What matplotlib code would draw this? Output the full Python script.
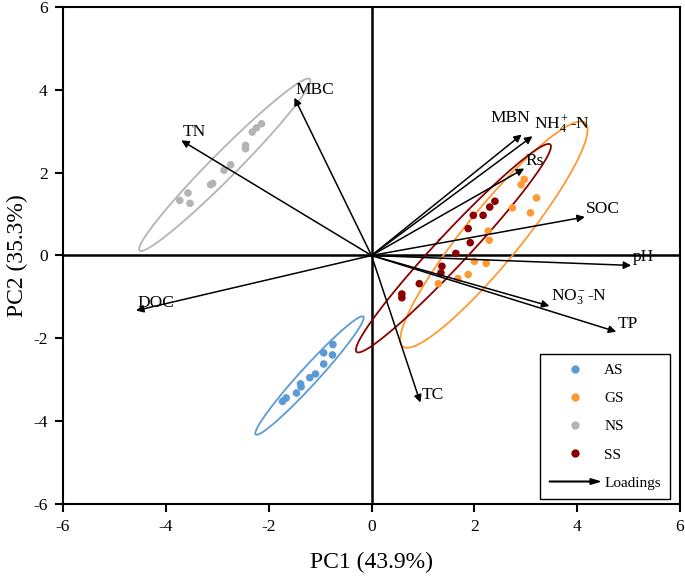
import numpy as np
import matplotlib
matplotlib.use('Agg')
import matplotlib.pyplot as plt
import matplotlib.patches as mpatches
from matplotlib.lines import Line2D
from matplotlib.legend_handler import HandlerPatch

plt.rcParams['font.family'] = ['Liberation Serif', 'DejaVu Serif']
plt.rcParams['mathtext.fontset'] = 'custom'
plt.rcParams['mathtext.rm'] = 'Liberation Serif'
plt.rcParams['mathtext.it'] = 'Liberation Serif:italic'
plt.rcParams['axes.unicode_minus'] = False

# sample scores (PC1, PC2) per group
as_pc1 = [-0.75, -0.93, -0.76, -0.93, -1.09, -1.20, -1.38, -1.37, -1.46, -1.66, -1.73]
as_pc2 = [-2.15, -2.35, -2.40, -2.62, -2.86, -2.95, -3.10, -3.17, -3.32, -3.44, -3.52]
gs_pc1 = [2.97, 2.91, 3.21, 2.74, 3.09, 2.27, 2.29, 2.00, 2.23, 1.88, 1.68, 1.30]
gs_pc2 = [1.84, 1.71, 1.39, 1.15, 1.03, 0.59, 0.37, -0.14, -0.19, -0.46, -0.56, -0.68]
ns_pc1 = [-2.14, -2.24, -2.32, -2.45, -2.45, -2.74, -2.87, -3.09, -3.13, -3.57, -3.73, -3.53]
ns_pc2 = [3.18, 3.08, 2.98, 2.66, 2.58, 2.19, 2.06, 1.74, 1.71, 1.51, 1.33, 1.26]
ss_pc1 = [2.40, 2.30, 1.98, 2.17, 1.88, 1.92, 1.64, 1.37, 1.35, 0.93, 0.59, 0.59]
ss_pc2 = [1.31, 1.17, 0.97, 0.97, 0.65, 0.31, 0.05, -0.26, -0.42, -0.68, -0.93, -1.02]

groups = ['AS', 'GS', 'NS', 'SS']
colors = ['#5b9bd5', '#ff9933', '#b4b4b4', '#8b0000']

# loadings
variables = ['MBC', 'TN', 'DOC', 'TC', 'MBN', 'NH$_4^+$-N', 'Rs', 'SOC', 'pH', 'NO$_3^-$-N', 'TP']
load_pc1 = [-1.50, -3.70, -4.58, 0.95, 2.92, 3.13, 2.97, 4.15, 5.05, 3.46, 4.76]
load_pc2 = [3.81, 2.78, -1.33, -3.55, 2.92, 2.88, 2.10, 0.93, -0.24, -1.22, -1.84]


def conf_ellipse(x, y, p=0.95, npts=200):
    x = np.asarray(x)
    y = np.asarray(y)
    n = len(x)
    d = n - 2
    f = d / 2 * ((1 - p) ** (-2 / d) - 1)   # F(p; 2, n-2)
    k = np.sqrt(2 * (n - 1) / d * f)
    vals, vecs = np.linalg.eigh(np.cov(x, y))
    t = np.linspace(0, 2 * np.pi, npts)
    circ = np.vstack([np.sqrt(vals[0]) * np.cos(t), np.sqrt(vals[1]) * np.sin(t)])
    pts = vecs @ circ * k
    return x.mean() + pts[0], y.mean() + pts[1]


fig = plt.figure(figsize=(6.85, 5.83), dpi=100)
ax = fig.add_axes([0.092, 0.1355, 0.9007, 0.8525])

ax.axhline(0, color='black', lw=1.8, zorder=1)
ax.axvline(0, color='black', lw=1.8, zorder=1)

data = [(as_pc1, as_pc2), (gs_pc1, gs_pc2), (ns_pc1, ns_pc2), (ss_pc1, ss_pc2)]
for (px, py), c, g in zip(data, colors, groups):
    ex, ey = conf_ellipse(px, py)
    ax.plot(ex, ey, color=c, lw=1.3, zorder=2)
    ax.scatter(px, py, s=30, color=c, edgecolors='none', zorder=3, label=g)

for name, lx, ly in zip(variables, load_pc1, load_pc2):
    ax.annotate('', xy=(lx, ly), xytext=(0, 0),
                arrowprops=dict(arrowstyle='-|>', color='black', lw=1.1,
                                mutation_scale=11, shrinkA=0, shrinkB=0),
                zorder=4)
    if name == 'MBN':
        ax.annotate(name, (lx, ly), xytext=(6, 6), textcoords='offset points',
                    ha='right', va='bottom', fontsize=12.5)
    else:
        ax.annotate(name, (lx, ly), xytext=(1, 0), textcoords='offset points',
                    ha='left', va='bottom', fontsize=12.5)

ax.set_xlim(-6, 6)
ax.set_ylim(-6, 6)
ax.set_xticks(np.arange(-6, 7, 2))
ax.set_yticks(np.arange(-6, 7, 2))
ax.tick_params(direction='out', length=6, width=1.5, labelsize=12.5, pad=5)
for sp in ax.spines.values():
    sp.set_linewidth(1.5)
ax.set_xlabel('PC1 (43.9%)', fontsize=17, labelpad=12)
ax.set_ylabel('PC2 (35.3%)', fontsize=17, labelpad=4)


def make_arrow(legend, orig_handle, xdescent, ydescent, width, height, fontsize):
    return mpatches.FancyArrow(-xdescent, height / 2 - ydescent, width, 0,
                               width=0.5, head_width=4, head_length=7,
                               length_includes_head=True, color='black')


handles = [Line2D([], [], ls='none', marker='o', markersize=6, color=c,
                  markeredgecolor='none') for c in colors]
handles.append(mpatches.FancyArrow(0, 0, 1, 0, color='black'))
labels = groups + ['Loadings']
leg = ax.legend(handles, labels, loc='lower right', bbox_to_anchor=(0.984, 0.01),
                handler_map={mpatches.FancyArrow: HandlerPatch(patch_func=make_arrow)},
                fontsize=11, handlelength=3.3, handletextpad=0.3, labelspacing=0.95,
                borderpad=0.6, borderaxespad=0, fancybox=False, framealpha=1,
                edgecolor='black')
leg.get_frame().set_linewidth(1.0)

fig.savefig('out.png', dpi=100)
